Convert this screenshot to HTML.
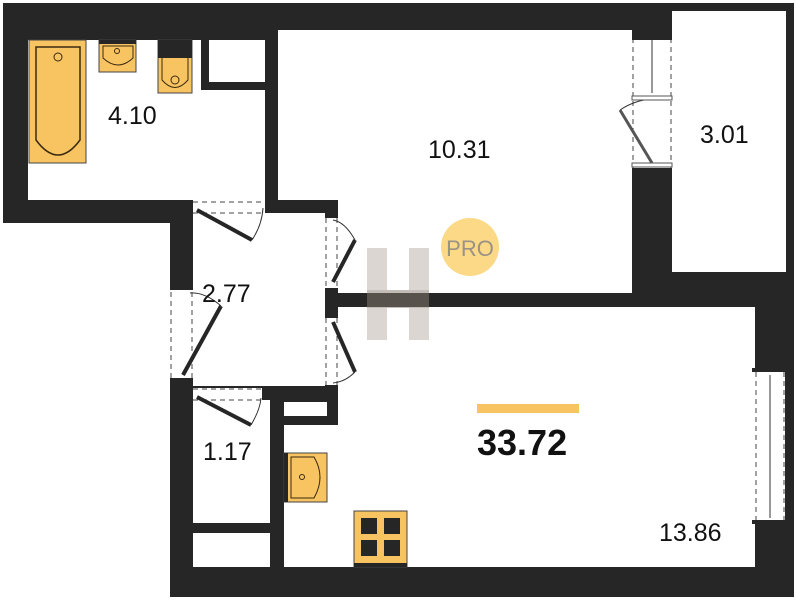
<!DOCTYPE html>
<html><head><style>html,body{margin:0;padding:0;background:#fff}svg{display:block}text{font-family:"Liberation Sans",sans-serif}</style></head><body>
<svg width="796" height="600" viewBox="0 0 796 600" xmlns="http://www.w3.org/2000/svg">
<g fill="#262626">
<rect x="3" y="3" width="670" height="220"/>
<rect x="632" y="3" width="162" height="305"/>
<rect x="170" y="200" width="624" height="397"/>
</g>
<g fill="#fff">
<rect x="28" y="40" width="237" height="160"/>
<rect x="278" y="30" width="354" height="170"/>
<rect x="338" y="200" width="294" height="93"/>
<rect x="672" y="11" width="114" height="261"/>
<rect x="193" y="213" width="132" height="173"/>
<rect x="193" y="200" width="72" height="13"/>
<rect x="338" y="307" width="417" height="90"/>
<rect x="284" y="390" width="471" height="177"/>
<rect x="325" y="218" width="13" height="70"/>
<rect x="325" y="318" width="13" height="67"/>
<rect x="170" y="290" width="23" height="88"/>
<rect x="193" y="388" width="69" height="12"/>
<rect x="193" y="400" width="77" height="123"/>
<rect x="193" y="533" width="77" height="34"/>
<rect x="755" y="370" width="30" height="152"/>
<rect x="632" y="38" width="40" height="130"/>
</g>
<rect x="201" y="40" width="64" height="50" fill="#262626"/>
<rect x="209" y="40" width="56" height="42" fill="#fff"/>
<rect x="270" y="390" width="14" height="177" fill="#262626"/>
<rect x="270" y="390" width="68" height="35" fill="#262626"/>
<rect x="284" y="402" width="43" height="14" fill="#fff"/>
<g stroke="#444" stroke-dasharray="5,4" fill="none" stroke-width="1">
<line x1="193" y1="202" x2="265" y2="202"/><line x1="193" y1="213" x2="265" y2="213"/>
<line x1="326" y1="218" x2="326" y2="288"/><line x1="337" y1="218" x2="337" y2="288"/>
<line x1="326" y1="318" x2="326" y2="385"/><line x1="337" y1="318" x2="337" y2="385"/>
<line x1="171" y1="292" x2="171" y2="378"/><line x1="192" y1="292" x2="192" y2="378"/>
<line x1="193" y1="389" x2="262" y2="389"/><line x1="193" y1="400" x2="262" y2="400"/>
<line x1="756" y1="372" x2="756" y2="520"/><line x1="784" y1="372" x2="784" y2="520"/>
<line x1="633" y1="38" x2="633" y2="168"/><line x1="671" y1="38" x2="671" y2="168"/>
</g>
<g stroke="#262626" stroke-width="4">
<line x1="197" y1="210" x2="252" y2="240"/>
<line x1="333" y1="282" x2="355" y2="240"/>
<line x1="333" y1="322" x2="355" y2="372"/>
<line x1="183" y1="375" x2="221" y2="306"/>
<line x1="197" y1="397" x2="251" y2="425"/>
</g>
<g stroke="#333" stroke-width="1" fill="none">
<path d="M252 240 Q262 225 263 208"/>
<path d="M355 240 Q345 222 333 220"/>
<path d="M355 372 Q345 382 333 383"/>
<path d="M221 306 Q205 292 190 293"/>
<path d="M251 425 Q260 410 261 398"/>
<line x1="770" y1="375" x2="770" y2="518"/>
<line x1="652" y1="40" x2="652" y2="93"/>
<path d="M620 110 Q635 100 652 99"/>
</g>
<rect x="632" y="36" width="40" height="4" fill="#262626"/>
<rect x="632" y="96" width="40" height="4" fill="#fff" stroke="#555"/>
<rect x="632" y="163" width="40" height="4" fill="#fff" stroke="#555"/>
<line x1="620" y1="110" x2="652" y2="163" stroke="#555" stroke-width="3"/>
<rect x="752" y="368" width="34" height="4" fill="#262626"/>
<rect x="752" y="520" width="34" height="4" fill="#262626"/>
<rect x="29" y="40" width="57" height="123" fill="#f8c462" stroke="#444"/>
<path d="M36 47 H80 V140 Q58 170 36 140 Z" fill="none" stroke="#3a2a10" stroke-width="1.5"/>
<circle cx="58" cy="57" r="4" fill="none" stroke="#3a2a10"/>
<rect x="99" y="40" width="37" height="32" fill="#f8c462" stroke="#444"/>
<rect x="99" y="40" width="37" height="4" fill="#262626"/>
<path d="M103 46 H133 V58 Q118 72 103 58 Z" fill="none" stroke="#3a2a10"/>
<circle cx="117" cy="51" r="2.5" fill="none" stroke="#3a2a10"/>
<rect x="158" y="40" width="34" height="53" fill="#f8c462" stroke="#444"/>
<rect x="158" y="40" width="34" height="18" fill="#262626"/>
<path d="M162 58 V80 Q175 95 188 80 V58" fill="none" stroke="#3a2a10"/>
<circle cx="175" cy="80" r="4" fill="none" stroke="#3a2a10"/>
<rect x="284" y="453" width="43" height="49" fill="#f8c462" stroke="#444"/>
<rect x="284" y="453" width="4" height="49" fill="#262626"/>
<path d="M291 457 H314 Q326 477 314 498 H291 Z" fill="none" stroke="#3a2a10"/>
<circle cx="302" cy="477" r="2.5" fill="none" stroke="#3a2a10"/>
<rect x="354" y="511" width="53" height="56" fill="#f8c462" stroke="#444"/>
<rect x="354" y="563" width="53" height="4" fill="#262626"/>
<g fill="#262626"><rect x="361" y="518" width="16" height="16"/><rect x="384" y="518" width="16" height="16"/><rect x="361" y="540" width="16" height="16"/><rect x="384" y="540" width="16" height="16"/></g>
<g opacity="0.5">
<rect x="367" y="248" width="20" height="92" fill="#b8aea4"/>
<rect x="409" y="248" width="20" height="92" fill="#b8aea4"/>
<rect x="367" y="290" width="62" height="18" fill="#8a7e72"/>
</g>
<circle cx="470" cy="247" r="29" fill="#fbd986"/>
<text x="470" y="256" font-size="22" fill="#9a9286" text-anchor="middle">PRO</text>
<rect x="477" y="404" width="102" height="9" fill="#f8c462"/>
<g fill="#111" font-size="25">
<text x="108" y="124">4.10</text>
<text x="428" y="158">10.31</text>
<text x="700" y="143">3.01</text>
<text x="202" y="302">2.77</text>
<text x="203" y="460">1.17</text>
<text x="659" y="541">13.86</text>
</g>
<text x="477" y="455" font-size="36" font-weight="bold" fill="#111">33.72</text>
</svg>
</body></html>
